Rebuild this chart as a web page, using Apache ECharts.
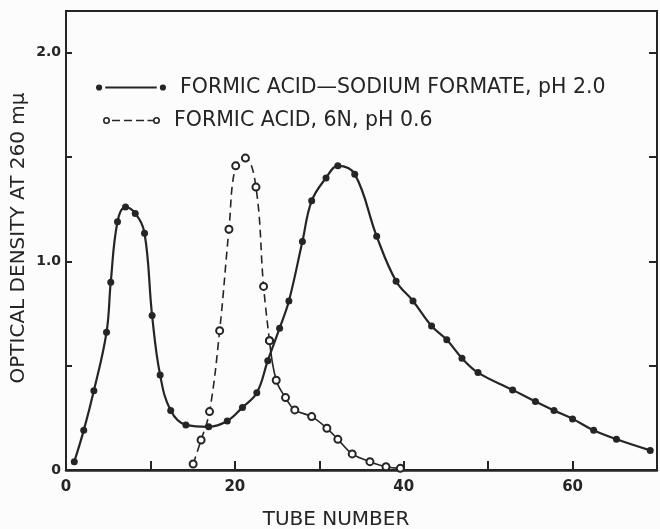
<!DOCTYPE html>
<html>
<head>
<meta charset="utf-8">
<script src="https://cdn.jsdelivr.net/npm/echarts@6/dist/echarts.min.js"></script>
<style>
  html, body { margin: 0; padding: 0; background: #fcfcfc; }
  #chart { width: 660px; height: 529px; }
</style>
</head>
<body>
<div id="chart"></div>
<script>
// formic acid - sodium formate, pH 2.0 (filled dots)
const bufferTubes = [0.98, 2.1, 3.3, 4.8, 5.3, 6.1, 7.05, 8.2, 9.3, 10.2, 11.15, 12.4, 14.2, 16.9, 19.1, 20.9, 22.6, 23.9, 25.3, 26.4, 28.0, 29.1, 30.8, 32.2, 34.2, 36.8, 39.1, 41.1, 43.3, 45.1, 46.9, 48.8, 52.9, 55.6, 57.8, 60.0, 62.5, 65.2, 69.2]
const bufferDensity = [0.04, 0.19, 0.38, 0.66, 0.90, 1.19, 1.26, 1.23, 1.135, 0.74, 0.455, 0.285, 0.216, 0.207, 0.235, 0.30, 0.37, 0.524, 0.68, 0.81, 1.095, 1.29, 1.40, 1.458, 1.418, 1.12, 0.905, 0.81, 0.69, 0.624, 0.536, 0.467, 0.384, 0.328, 0.285, 0.245, 0.19, 0.147, 0.094]

// formic acid 6N, pH 0.6 (open circles) - dashed over the peak, plain line on the tail
const acidTubes = [15.06, 16.0, 17.0, 18.2, 19.3, 20.1, 21.25, 22.5, 23.4, 24.1, 24.9, 26.0, 27.1, 29.1, 30.9, 32.2, 33.9, 36.0, 37.9, 39.6]
const acidDensity = [0.029, 0.144, 0.28, 0.668, 1.154, 1.458, 1.495, 1.356, 0.88, 0.62, 0.43, 0.347, 0.288, 0.256, 0.20, 0.147, 0.077, 0.04, 0.016, 0.008]
const acidDashedCount = 10

const bufferName = 'FORMIC ACID\u2014SODIUM FORMATE, pH 2.0'
const acidName = 'FORMIC ACID, 6N, pH 0.6'

const ink = '#252525'
const font = 'DejaVu Sans'

const pairs = (xs, ys) => xs.map((x, i) => [x, ys[i]])
const bufferData = pairs(bufferTubes, bufferDensity)
const acidData = pairs(acidTubes, acidDensity)
const acidHead = acidData.slice(0, acidDashedCount)
const acidTail = acidData.slice(acidDashedCount - 1)

const dotLineIcon = 'path://M1,4a3,3 0 1,0 6,0a3,3 0 1,0 -6,0Z M10,3H60V5H10Z M63,4a3,3 0 1,0 6,0a3,3 0 1,0 -6,0Z'
const ringDashIcon = 'path://M0,4a3.5,3.5 0 1,0 7,0a3.5,3.5 0 1,0 -7,0Z M1.6,4a1.9,1.9 0 1,1 3.8,0a1.9,1.9 0 1,1 -3.8,0Z ' +
  'M9,3.3H17V4.7H9Z M21,3.3H29V4.7H21Z M33,3.3H41V4.7H33Z M44.5,3.3H50V4.7H44.5Z ' +
  'M50,4a3.5,3.5 0 1,0 7,0a3.5,3.5 0 1,0 -7,0Z M51.6,4a1.9,1.9 0 1,1 3.8,0a1.9,1.9 0 1,1 -3.8,0Z'

const chart = echarts.init(document.getElementById('chart'))

const valueAxisY = (position, showLabel, tickLen) => ({
  type: 'value',
  position: position,
  min: 0,
  max: 2.2,
  interval: 0.5,
  axisLine: { show: true, lineStyle: { color: ink, width: 2 } },
  axisTick: { show: true, inside: true, length: tickLen, lineStyle: { color: ink, width: 2 } },
  axisLabel: {
    show: showLabel,
    margin: 5,
    color: ink,
    fontFamily: font,
    fontWeight: 'bold',
    fontSize: 14,
    formatter: v => (v === 0 ? '0' : (v % 1 === 0 ? v.toFixed(1) : ''))
  },
  splitLine: { show: false }
})

const legendText = { color: ink, fontFamily: font, fontSize: 20.5, padding: [0, 0, 0, 9] }

chart.setOption({
  backgroundColor: '#fcfcfc',
  animation: false,
  grid: {
    left: 66,
    right: 1,
    top: 11,
    bottom: 59,
    show: true,
    borderColor: ink,
    borderWidth: 2,
    backgroundColor: 'transparent'
  },
  legend: [
    {
      data: [{ name: bufferName, icon: dotLineIcon }],
      left: 96,
      top: 77,
      padding: 0,
      itemWidth: 70,
      itemHeight: 7,
      itemStyle: { color: ink, borderWidth: 0 },
      selectedMode: false,
      textStyle: legendText
    },
    {
      data: [{ name: acidName, icon: ringDashIcon }],
      left: 103,
      top: 110,
      padding: 0,
      itemWidth: 57,
      itemHeight: 7,
      itemStyle: { color: ink, borderWidth: 0 },
      selectedMode: false,
      textStyle: legendText
    }
  ],
  xAxis: {
    type: 'value',
    min: 0,
    max: 70,
    interval: 10,
    axisLine: { show: true, lineStyle: { color: ink, width: 2.5 } },
    axisTick: { show: true, inside: true, length: 9, lineStyle: { color: ink, width: 2 } },
    axisLabel: {
      margin: 10,
      color: ink,
      fontFamily: font,
      fontWeight: 'bold',
      fontSize: 15,
      formatter: v => (v % 20 === 0 && v < 70 ? String(v) : '')
    },
    splitLine: { show: false }
  },
  yAxis: [
    valueAxisY('left', true, 6),
    valueAxisY('right', false, 8)
  ],
  graphic: [
    {
      type: 'text',
      x: 336,
      y: 520,
      style: { text: 'TUBE NUMBER', fill: ink, font: '20px "DejaVu Sans"', align: 'center', verticalAlign: 'middle' }
    },
    {
      type: 'text',
      x: 19,
      y: 238,
      rotation: Math.PI / 2,
      style: {
        text: 'OPTICAL DENSITY AT 260 m\u03bc',
        fill: ink,
        font: '20px "DejaVu Sans"',
        align: 'center',
        verticalAlign: 'middle'
      }
    }
  ],
  series: [
    {
      name: bufferName,
      type: 'line',
      data: bufferData,
      smooth: 0.4,
      symbol: 'circle',
      symbolSize: 7,
      itemStyle: { color: ink },
      lineStyle: { color: ink, width: 2.2 },
      z: 3
    },
    {
      name: acidName,
      type: 'line',
      data: acidHead,
      smooth: 0.4,
      symbol: 'emptyCircle',
      symbolSize: 7,
      itemStyle: { color: ink, borderWidth: 1.3 },
      lineStyle: { color: ink, width: 1.6, type: [8, 5] },
      z: 4
    },
    {
      name: acidName,
      type: 'line',
      data: acidTail,
      smooth: 0.4,
      symbol: 'emptyCircle',
      symbolSize: 7,
      itemStyle: { color: ink, borderWidth: 1.3 },
      lineStyle: { color: ink, width: 1.6 },
      z: 4
    }
  ]
})
</script>
</body>
</html>
